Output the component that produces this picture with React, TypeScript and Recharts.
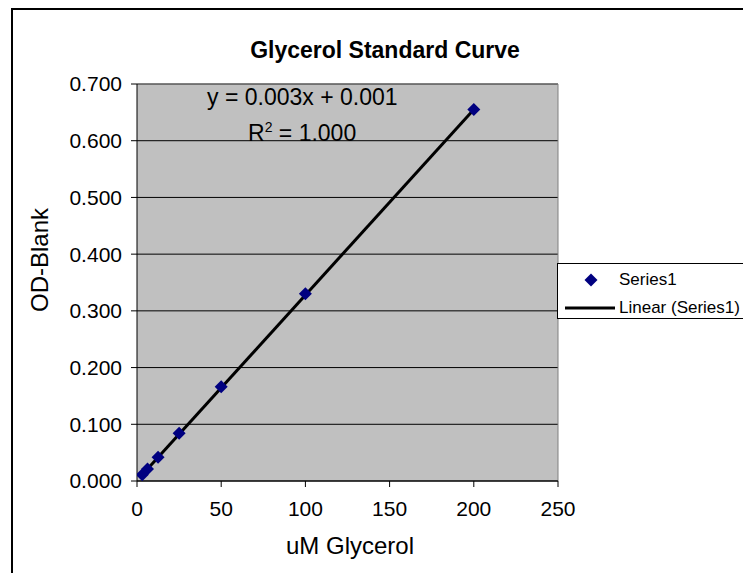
import {
  ComposedChart,
  Scatter,
  Line,
  XAxis,
  YAxis,
  CartesianGrid,
  ReferenceLine,
} from "recharts";

// uM glycerol vs blank-corrected OD
const standards = [
  { x: 3.125, y: 0.011 },
  { x: 6.25, y: 0.021 },
  { x: 12.5, y: 0.042 },
  { x: 25, y: 0.084 },
  { x: 50, y: 0.166 },
  { x: 100, y: 0.33 },
  { x: 200, y: 0.655 },
];

// linear trendline ends
const trend = [
  { x: 3.125, y: 0.011 },
  { x: 200, y: 0.655 },
];

const xTicks = [0, 50, 100, 150, 200, 250];
const yTicks = [0, 0.1, 0.2, 0.3, 0.4, 0.5, 0.6, 0.7];

const FONT = '"Liberation Sans", Arial, sans-serif';
const NAVY = "#000080";

function Diamond(props: { cx?: number; cy?: number }) {
  const { cx, cy } = props;
  if (cx == null || cy == null) return null;
  const r = 6.5;
  return (
    <path
      d={`M${cx},${cy - r}L${cx + r},${cy}L${cx},${cy + r}L${cx - r},${cy}Z`}
      fill={NAVY}
    />
  );
}

function LegendBox() {
  return (
    <div
      style={{
        position: "absolute",
        left: 549,
        top: 255,
        width: 186,
        height: 54,
        border: "1px solid #000",
        background: "#fff",
        fontFamily: FONT,
        fontSize: 17,
        color: "#000",
      }}
    >
      <svg width={60} height={54} style={{ position: "absolute", left: 0, top: 0 }}>
        <path d="M33,9.5L39.5,16L33,22.5L26.5,16Z" fill={NAVY} />
        <line x1={7} y1={44} x2={57} y2={44} stroke="#000" strokeWidth={3} />
      </svg>
      <div style={{ position: "absolute", left: 61, top: 6 }}>Series1</div>
      <div style={{ position: "absolute", left: 61, top: 34 }}>Linear (Series1)</div>
    </div>
  );
}

export default function App() {
  const tickStyle = { fontSize: 21, fill: "#000", fontFamily: FONT };
  return (
    <div
      style={{
        position: "relative",
        width: 743,
        height: 565,
        overflow: "hidden",
        background: "#fff",
        fontFamily: FONT,
      }}
    >
      <div
        style={{
          position: "absolute",
          left: 3,
          top: 0,
          width: 900,
          height: 900,
          borderLeft: "2px solid #000",
          borderTop: "2px solid #000",
        }}
      />
      <ComposedChart
        width={743}
        height={565}
        margin={{ top: 76, right: 193, bottom: 62, left: 0 }}
        style={{ position: "absolute", left: 0, top: 0 }}
      >
        <CartesianGrid vertical={false} stroke="#000" fill="#C0C0C0" fillOpacity={1} />
        <XAxis
          type="number"
          dataKey="x"
          domain={[0, 250]}
          ticks={xTicks}
          height={30}
          tick={tickStyle}
          tickSize={6}
          tickMargin={14}
          axisLine={{ stroke: "#000" }}
          tickLine={{ stroke: "#000" }}
          allowDataOverflow
        />
        <YAxis
          type="number"
          dataKey="y"
          domain={[0, 0.7]}
          ticks={yTicks}
          width={129}
          tick={tickStyle}
          tickSize={6}
          tickMargin={9}
          tickFormatter={(v: number) => v.toFixed(3)}
          axisLine={{ stroke: "#000" }}
          tickLine={{ stroke: "#000" }}
          allowDataOverflow
        />
        <ReferenceLine y={0.7} stroke="#808080" />
        <ReferenceLine x={250} stroke="#808080" />
        <Line
          data={trend}
          dataKey="y"
          type="linear"
          stroke="#000"
          strokeWidth={3}
          dot={false}
          activeDot={false}
          isAnimationActive={false}
        />
        <Scatter
          data={standards}
          dataKey="y"
          shape={<Diamond />}
          isAnimationActive={false}
        />
      </ComposedChart>

      <LegendBox />

      <div
        style={{
          position: "absolute",
          left: 0,
          width: 754,
          top: 29,
          textAlign: "center",
          fontWeight: "bold",
          fontSize: 23,
          color: "#000",
        }}
      >
        Glycerol Standard Curve
      </div>
      <div style={{ position: "absolute", left: 199, top: 76, fontSize: 23, color: "#000" }}>
        y = 0.003x + 0.001
      </div>
      <div style={{ position: "absolute", left: 240, top: 111, fontSize: 23, color: "#000" }}>
        R<sup style={{ fontSize: 14 }}>2</sup> = 1.000
      </div>
      <div
        style={{
          position: "absolute",
          left: 142,
          width: 400,
          top: 524,
          textAlign: "center",
          fontSize: 24,
          color: "#000",
        }}
      >
        uM Glycerol
      </div>
      <div
        style={{
          position: "absolute",
          left: 32,
          top: 252,
          transform: "translate(-50%, -50%) rotate(-90deg)",
          fontSize: 24,
          color: "#000",
          whiteSpace: "nowrap",
        }}
      >
        OD-Blank
      </div>
    </div>
  );
}
